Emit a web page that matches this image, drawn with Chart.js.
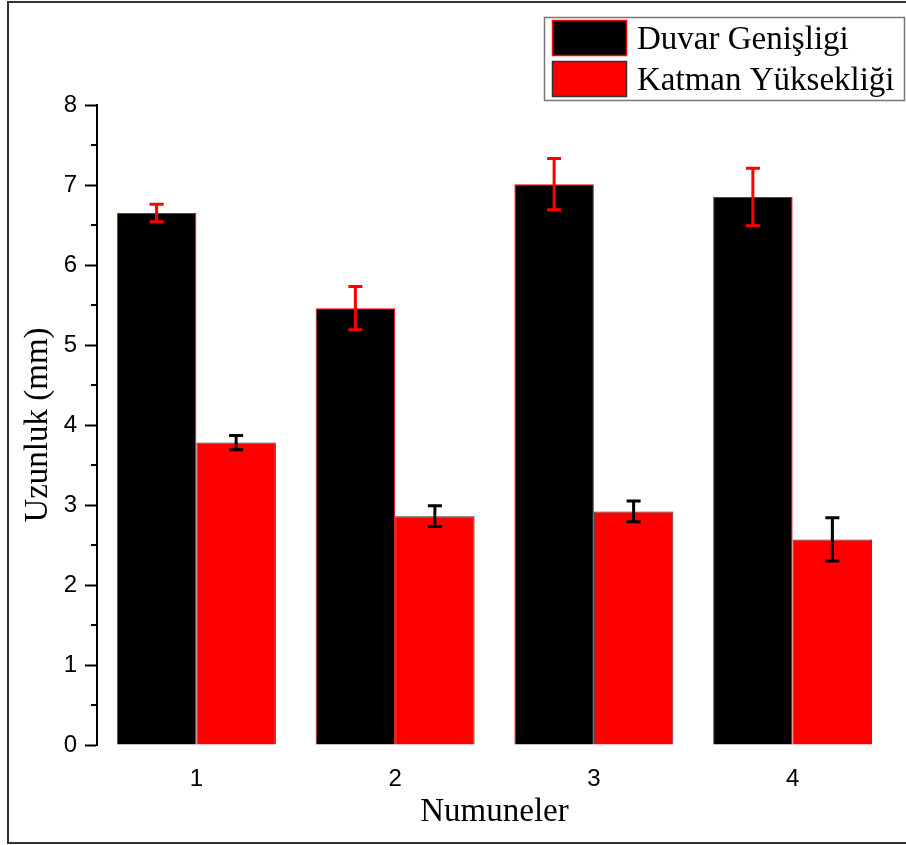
<!DOCTYPE html>
<html>
<head>
<meta charset="utf-8">
<title>Uzunluk (mm)</title>
<script src="https://cdn.jsdelivr.net/npm/chart.js@4/dist/chart.umd.min.js"></script>
<style>
  html, body { margin: 0; padding: 0; background: #ffffff; }
  canvas { display: block; }
</style>
</head>
<body>
<canvas id="chart" width="906" height="845"></canvas>
<script>
// Sample numbers along the x axis
const categories = ['1', '2', '3', '4'];

// Wall width (mean and ± error), mm
const wallWidth = [6.65, 5.46, 7.01, 6.85];
const wallWidthErr = [0.11, 0.27, 0.32, 0.36];

// Layer height (mean and ± error), mm
const layerHeight = [3.78, 2.86, 2.92, 2.57];
const layerHeightErr = [0.09, 0.13, 0.13, 0.27];

// Y axis ticks
const yTicks = [0, 1, 2, 3, 4, 5, 6, 7, 8];
const yMinorTicks = [0.5, 1.5, 2.5, 3.5, 4.5, 5.5, 6.5, 7.5];

const SERIF = "'Liberation Serif', 'Times New Roman', serif";
const SANS = "'Liberation Sans', Arial, sans-serif";

// Outer frame round the whole figure
const framePlugin = {
  id: 'frame',
  beforeDraw(chart) {
    const ctx = chart.ctx;
    ctx.save();
    ctx.fillStyle = '#ffffff';
    ctx.fillRect(0, 0, chart.width, chart.height);
    ctx.strokeStyle = '#333333';
    ctx.lineWidth = 2;
    ctx.strokeRect(8, 2, chart.width + 10, chart.height - 4);
    ctx.restore();
  }
};

// Minor ticks on the y axis, halfway between the labelled ones
const minorTickPlugin = {
  id: 'minorTicks',
  afterDraw(chart) {
    const y = chart.scales.y;
    const ctx = chart.ctx;
    ctx.save();
    ctx.strokeStyle = '#000';
    ctx.lineWidth = 2;
    yMinorTicks.forEach(v => {
      const py = Math.round(y.getPixelForValue(v));
      ctx.beginPath();
      ctx.moveTo(y.right - 6, py);
      ctx.lineTo(y.right, py);
      ctx.stroke();
    });
    ctx.restore();
  }
};

// Error bars with caps, one colour per series
const errorBarPlugin = {
  id: 'errorBars',
  afterDatasetsDraw(chart) {
    const ctx = chart.ctx;
    const y = chart.scales.y;
    chart.data.datasets.forEach((ds, i) => {
      const meta = chart.getDatasetMeta(i);
      ctx.save();
      ctx.strokeStyle = ds.errorColor;
      ctx.lineWidth = 3;
      meta.data.forEach((bar, j) => {
        const v = ds.data[j];
        const e = ds.errors[j];
        const top = y.getPixelForValue(v + e);
        const bot = y.getPixelForValue(v - e);
        const x = bar.x;
        const cap = 7;
        ctx.beginPath();
        ctx.moveTo(x, top);
        ctx.lineTo(x, bot);
        ctx.moveTo(x - cap, top);
        ctx.lineTo(x + cap, top);
        ctx.moveTo(x - cap, bot);
        ctx.lineTo(x + cap, bot);
        ctx.stroke();
      });
      ctx.restore();
    });
  }
};

// Boxed legend in the upper right corner
const boxLegendPlugin = {
  id: 'boxLegend',
  afterDraw(chart) {
    const ctx = chart.ctx;
    const bx = 544, by = 17, bw = 360, bh = 83;
    ctx.save();
    ctx.fillStyle = '#ffffff';
    ctx.fillRect(bx, by, bw, bh);
    ctx.strokeStyle = '#777777';
    ctx.lineWidth = 1.5;
    ctx.strokeRect(bx + 0.5, by + 0.5, bw, bh);
    const rows = [20, 61];
    chart.data.datasets.forEach((ds, i) => {
      const sy = rows[i];
      ctx.fillStyle = ds.backgroundColor;
      ctx.fillRect(552, sy, 75, 36);
      ctx.strokeStyle = ds.borderColor;
      ctx.lineWidth = 1.5;
      ctx.strokeRect(552.5, sy + 0.5, 74, 35);
      ctx.fillStyle = '#000';
      ctx.font = '33px ' + SERIF;
      ctx.textBaseline = 'alphabetic';
      ctx.textAlign = 'left';
      ctx.fillText(ds.label, 637, sy + 29);
    });
    ctx.restore();
  }
};

new Chart(document.getElementById('chart'), {
  type: 'bar',
  data: {
    labels: categories,
    datasets: [
      {
        label: 'Duvar Genişligi',
        data: wallWidth,
        errors: wallWidthErr,
        errorColor: '#ff0000',
        backgroundColor: '#000000',
        borderColor: '#ff0000',
        borderWidth: 1
      },
      {
        label: 'Katman Yüksekliği',
        data: layerHeight,
        errors: layerHeightErr,
        errorColor: '#000000',
        backgroundColor: '#ff0000',
        borderColor: '#333333',
        borderWidth: 1
      }
    ]
  },
  options: {
    responsive: false,
    animation: false,
    devicePixelRatio: 1,
    layout: { padding: { top: 105, right: 14, left: 0, bottom: 0 } },
    datasets: {
      bar: { categoryPercentage: 0.8, barPercentage: 1.0 }
    },
    plugins: {
      legend: { display: false },
      tooltip: { enabled: false }
    },
    scales: {
      x: {
        afterFit(scale) { scale.height = 100; },
        grid: { display: false, drawTicks: false },
        border: { display: false },
        ticks: {
          color: '#000',
          font: { family: SANS, size: 24 },
          padding: 20
        },
        title: {
          display: true,
          text: 'Numuneler',
          color: '#000',
          font: { family: SERIF, size: 33 },
          padding: { top: 0, bottom: 13 }
        }
      },
      y: {
        min: 0,
        max: 8,
        afterFit(scale) { scale.width = 97; },
        afterBuildTicks(scale) { scale.ticks = yTicks.map(v => ({ value: v })); },
        grid: {
          drawOnChartArea: false,
          drawTicks: true,
          tickLength: 12,
          tickWidth: 2,
          color: '#000'
        },
        border: { display: true, color: '#000', width: 2 },
        ticks: {
          color: '#000',
          font: { family: SANS, size: 24 },
          padding: 8
        },
        title: {
          display: true,
          text: 'Uzunluk (mm)',
          color: '#000',
          font: { family: SERIF, size: 33 },
          padding: { top: 19, bottom: 0 }
        }
      }
    }
  },
  plugins: [framePlugin, minorTickPlugin, errorBarPlugin, boxLegendPlugin]
});
</script>
</body>
</html>
